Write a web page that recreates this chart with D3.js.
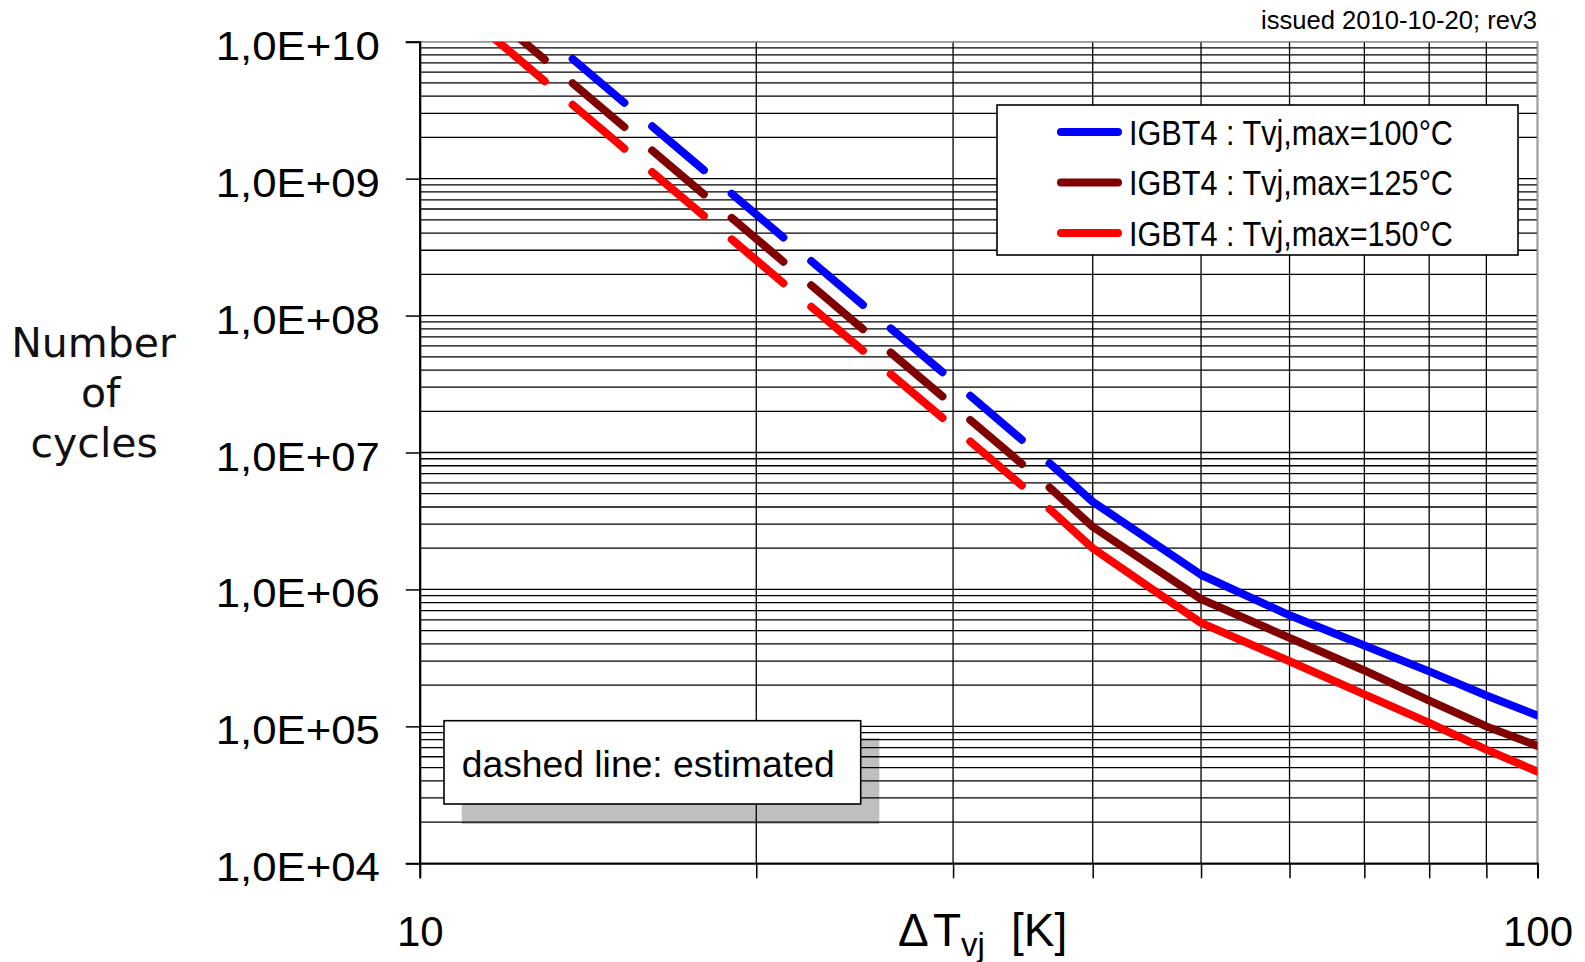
<!DOCTYPE html>
<html>
<head>
<meta charset="utf-8">
<script src="https://cdn.jsdelivr.net/npm/d3@7"></script>
<style>
  body { margin: 0; background: #fff; }
  svg { display: block; }
</style>
</head>
<body>
<div id="chart"></div>
<script>
// estimated part (dashed) of the curves
const deltaTEst = [11, 15, 20, 25, 30, 36.6];
const cycles100Est = [3.41e10, 4.0e9, 5.47e8, 1.17e8, 3.32e7, 8.34e6];
const cycles125Est = [2.27e10, 2.66e9, 3.64e8, 7.78e7, 2.21e7, 5.55e6];
const cycles150Est = [1.58e10, 1.85e9, 2.54e8, 5.42e7, 1.54e7, 3.86e6];

// measured part (solid)
const deltaTMeas = [36.6, 40, 50, 60, 70, 80, 90, 100];
const cycles100Meas = [8.34e6, 4.37e6, 1.28e6, 6.47e5, 3.90e5, 2.52e5, 1.68e5, 1.20e5];
const cycles125Meas = [5.55e6, 2.87e6, 8.5e5, 4.43e5, 2.56e5, 1.54e5, 1.0e5, 7.2e4];
const cycles150Meas = [3.86e6, 2.0e6, 5.7e5, 2.99e5, 1.71e5, 1.06e5, 6.76e4, 4.67e4];

const seriesNames = ["IGBT4 : Tvj,max=100°C", "IGBT4 : Tvj,max=125°C", "IGBT4 : Tvj,max=150°C"];
const seriesColors = ["#0000ff", "#800000", "#ff0000"];
const yTickValues = [1e4, 1e5, 1e6, 1e7, 1e8, 1e9, 1e10];
const xLabelValues = [10, 100];

const W = 1585, H = 962;
const plot = { left: 419.8, right: 1537.5, top: 41.7, bottom: 863.3 };
const font = '"Liberation Sans", Arial, sans-serif';

const svg = d3.select('#chart')
  .append('svg')
  .attr('width', W)
  .attr('height', H);

const x = d3.scaleLog().domain([10, 100]).range([plot.left, plot.right]);
const y = d3.scaleLog().domain([1e4, 1e10]).range([plot.bottom, plot.top]);

// shadow of the note box sits under the grid
svg.append('rect')
  .attr('x', 461.7).attr('y', 738)
  .attr('width', 417.6).attr('height', 86)
  .style('fill', '#bfbfbf');

// grid
const grid = svg.append('g');
grid.selectAll('.hgrid')
  .data(y.ticks())
  .enter()
  .append('line')
  .attr('class', 'hgrid')
  .attr('x1', plot.left).attr('x2', plot.right)
  .attr('y1', d => y(d)).attr('y2', d => y(d))
  .style('stroke', '#000')
  .style('stroke-width', 1.3);

grid.selectAll('.vgrid')
  .data(x.ticks())
  .enter()
  .append('line')
  .attr('class', 'vgrid')
  .attr('y1', plot.top).attr('y2', plot.bottom)
  .attr('x1', d => x(d)).attr('x2', d => x(d))
  .style('stroke', '#000')
  .style('stroke-width', 1.3);

// top and right border in gray
svg.append('path')
  .attr('d', `M${plot.left},${plot.top}H${plot.right}V${plot.bottom}`)
  .style('fill', 'none')
  .style('stroke', '#999')
  .style('stroke-width', 1.6);

// axes
const yAxis = svg.append('g')
  .attr('transform', `translate(${plot.left},0)`)
  .call(d3.axisLeft(y).tickValues(yTickValues).tickSize(14).tickPadding(26)
    .tickFormat(d => '1,0E+' + String(Math.round(Math.log10(d))).padStart(2, '0')));
yAxis.select('.domain').style('stroke', '#000').style('stroke-width', 2);
yAxis.selectAll('.tick line').style('stroke', '#000').style('stroke-width', 1.5);
yAxis.selectAll('.tick text')
  .attr('dy', 17.5)
  .attr('textLength', 164)
  .attr('lengthAdjust', 'spacingAndGlyphs')
  .style('font-family', font)
  .style('font-size', '40px')
  .style('fill', '#000');

const xAxis = svg.append('g')
  .attr('transform', `translate(0,${plot.bottom})`)
  .call(d3.axisBottom(x).tickValues(x.ticks()).tickSize(15)
    .tickFormat(d => xLabelValues.includes(d) ? d3.format('d')(d) : ''));
xAxis.select('.domain').style('stroke', '#000').style('stroke-width', 2);
xAxis.selectAll('.tick line').style('stroke', '#000').style('stroke-width', 1.5);
xAxis.selectAll('.tick text')
  .attr('y', 0)
  .attr('dy', 83)
  .style('font-family', font)
  .style('font-size', '42px')
  .style('fill', '#000');

// curves
svg.append('clipPath')
  .attr('id', 'plotclip')
  .append('rect')
  .attr('x', plot.left).attr('y', plot.top)
  .attr('width', plot.right - plot.left).attr('height', plot.bottom - plot.top);

const line = d3.line()
  .x(d => x(d[0]))
  .y(d => y(d[1]));

const curves = svg.append('g').attr('clip-path', 'url(#plotclip)');

const estSeries = [cycles100Est, cycles125Est, cycles150Est];
const measSeries = [cycles100Meas, cycles125Meas, cycles150Meas];

// dash pattern measured in x pixels: period and dash length (cap centres)
const dashPeriod = 79.5, dashLen = 51.7;

estSeries.forEach((vals, i) => {
  // drawn backwards from the measured start so the dashes line up
  const pts = deltaTEst.map((t, j) => [t, vals[j]]).reverse();
  const path = curves.append('path')
    .attr('d', line(pts))
    .style('fill', 'none')
    .style('stroke', seriesColors[i])
    .style('stroke-width', 8)
    .style('stroke-linecap', 'round')
    .style('stroke-linejoin', 'round');
  const len = path.node().getTotalLength();
  const k = len / (x(pts[0][0]) - x(pts[pts.length - 1][0]));
  path.attr('stroke-dasharray', `${dashLen * k} ${(dashPeriod - dashLen) * k}`)
    .attr('stroke-dashoffset', dashLen * k);
});

measSeries.forEach((vals, i) => {
  curves.append('path')
    .attr('d', line(deltaTMeas.map((t, j) => [t, vals[j]])))
    .style('fill', 'none')
    .style('stroke', seriesColors[i])
    .style('stroke-width', 8)
    .style('stroke-linecap', 'round')
    .style('stroke-linejoin', 'round');
});

// note box
svg.append('rect')
  .attr('x', 444).attr('y', 720.7)
  .attr('width', 416.7).attr('height', 83.3)
  .style('fill', '#fff')
  .style('stroke', '#000')
  .style('stroke-width', 1.6);

svg.append('text')
  .attr('x', 461.7).attr('y', 776.7)
  .attr('textLength', 373)
  .attr('lengthAdjust', 'spacingAndGlyphs')
  .text('dashed line: estimated')
  .style('font-family', font)
  .style('font-size', '37px')
  .style('fill', '#000');

// legend
const legend = svg.append('g');
legend.append('rect')
  .attr('x', 997).attr('y', 105)
  .attr('width', 521).attr('height', 150)
  .style('fill', '#fff')
  .style('stroke', '#000')
  .style('stroke-width', 1.6);

const rows = legend.selectAll('.row')
  .data(seriesNames)
  .enter()
  .append('g')
  .attr('class', 'row')
  .attr('transform', (d, i) => `translate(0, ${132 + i * 50.5})`);

rows.append('line')
  .attr('x1', 1061).attr('x2', 1118)
  .attr('y1', 0).attr('y2', 0)
  .style('stroke', (d, i) => seriesColors[i])
  .style('stroke-width', 8)
  .style('stroke-linecap', 'round');

rows.append('text')
  .attr('x', 1129).attr('y', 12.7)
  .attr('textLength', 324)
  .attr('lengthAdjust', 'spacingAndGlyphs')
  .text(d => d)
  .style('font-family', font)
  .style('font-size', '35px')
  .style('fill', '#000');

// issued note
svg.append('text')
  .attr('x', 1537).attr('y', 29.3)
  .attr('text-anchor', 'end')
  .attr('textLength', 276)
  .attr('lengthAdjust', 'spacingAndGlyphs')
  .text('issued 2010-10-20; rev3')
  .style('font-family', font)
  .style('font-size', '25px')
  .style('fill', '#000');

// axis titles
const yTitle = svg.append('text')
  .style('font-family', '"DejaVu Sans", Verdana, sans-serif')
  .style('font-size', '41px')
  .style('fill', '#111')
  .attr('text-anchor', 'middle');
yTitle.append('tspan').attr('x', 93.5).attr('y', 356.7).text('Number');
yTitle.append('tspan').attr('x', 100.8).attr('y', 407.3).text('of');
yTitle.append('tspan').attr('x', 94.2).attr('y', 456.7).text('cycles');

const xTitle = svg.append('text')
  .attr('y', 946)
  .style('font-family', font)
  .style('font-size', '46px')
  .style('fill', '#000');
xTitle.append('tspan').attr('x', 898).text('\u0394');
xTitle.append('tspan').attr('x', 933).text('T');
xTitle.append('tspan').attr('dy', 10).style('font-size', '33px').text('vj');
xTitle.append('tspan').attr('x', 1011).attr('dy', -10).text('[K]');
</script>
</body>
</html>
